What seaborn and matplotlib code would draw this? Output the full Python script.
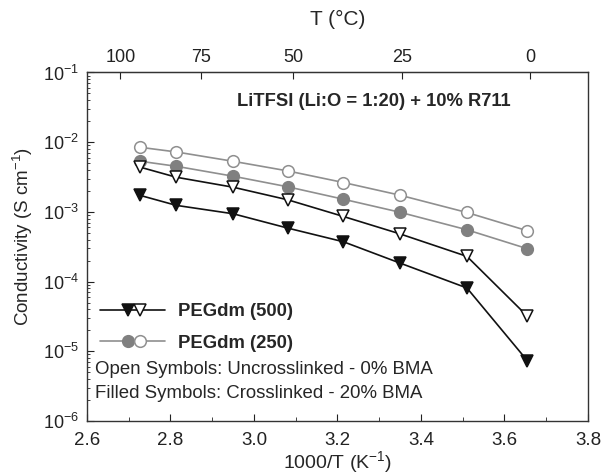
import numpy as np
import pandas as pd
import matplotlib
matplotlib.use("Agg")
import matplotlib.pyplot as plt
import seaborn as sns
from matplotlib.lines import Line2D
from matplotlib.legend_handler import HandlerLine2D, HandlerTuple
from matplotlib.ticker import MultipleLocator, LogLocator, NullFormatter, NullLocator, FormatStrFormatter

# Inverse temperature (1000/T, K^-1) of the measurement points
inv_T = [2.728, 2.814, 2.950, 3.081, 3.214, 3.349, 3.510, 3.655]

# Ionic conductivity, S cm^-1
peg500_crosslinked = [1.72e-3, 1.24e-3, 9.4e-4, 5.85e-4, 3.73e-4, 1.85e-4, 8.1e-5, 7.3e-6]
peg500_uncrosslinked = [4.37e-3, 3.14e-3, 2.26e-3, 1.49e-3, 8.6e-4, 4.85e-4, 2.30e-4, 3.18e-5]
peg250_crosslinked = [5.32e-3, 4.51e-3, 3.25e-3, 2.29e-3, 1.52e-3, 9.9e-4, 5.54e-4, 2.96e-4]
peg250_uncrosslinked = [8.44e-3, 7.24e-3, 5.32e-3, 3.87e-3, 2.64e-3, 1.74e-3, 9.8e-4, 5.36e-4]

series_labels = ["PEGdm (500)", "PEGdm (250)"]
top_ticks_C = [100, 75, 50, 25, 0]

sns.set_style("ticks")
plt.rcParams["font.family"] = ["Liberation Sans", "DejaVu Sans"]
plt.rcParams["mathtext.default"] = "regular"

df = pd.DataFrame({
    "x": inv_T * 4,
    "sigma": peg500_crosslinked + peg500_uncrosslinked + peg250_crosslinked + peg250_uncrosslinked,
    "series": (["500x"] * 8 + ["500u"] * 8 + ["250x"] * 8 + ["250u"] * 8),
})

black = "#111111"
grey_line = "#8f8f8f"
grey_fill = "#808080"
MS = 8.4
MEW = 1.1

styles = {
    "500x": dict(color=black, marker="v", markerfacecolor=black, markeredgecolor=black),
    "500u": dict(color=black, marker="v", markerfacecolor="white", markeredgecolor=black),
    "250x": dict(color=grey_line, marker="o", markerfacecolor=grey_fill, markeredgecolor=grey_fill),
    "250u": dict(color=grey_line, marker="o", markerfacecolor="white", markeredgecolor=grey_line),
}

fig = plt.figure(figsize=(6.05, 4.75), dpi=100)
ax = fig.add_axes([0.1438, 0.1137, 0.8281, 0.7337])

for key in ["250u", "250x", "500u", "500x"]:
    st = styles[key]
    sns.lineplot(data=df[df["series"] == key], x="x", y="sigma", ax=ax,
                 color=st["color"], marker=st["marker"], markersize=MS,
                 markerfacecolor=st["markerfacecolor"], markeredgecolor=st["markeredgecolor"],
                 markeredgewidth=MEW, linewidth=1.2, legend=False, estimator=None)

ax.set_yscale("log")
ax.set_xlim(2.6, 3.8)
ax.set_ylim(1e-6, 1e-1)
ax.xaxis.set_major_locator(MultipleLocator(0.2))
ax.xaxis.set_minor_locator(MultipleLocator(0.1))
ax.xaxis.set_major_formatter(FormatStrFormatter("%.1f"))
ax.yaxis.set_major_locator(LogLocator(base=10, numticks=10))
ax.yaxis.set_minor_locator(LogLocator(base=10, subs=np.arange(2, 10), numticks=20))
ax.yaxis.set_minor_formatter(NullFormatter())

ax.tick_params(axis="both", which="both", direction="in", colors="#222222")
ax.tick_params(axis="x", which="major", length=5, pad=8, labelsize=13.5)
ax.tick_params(axis="x", which="minor", length=3)
ax.tick_params(axis="y", which="major", length=5, pad=6, labelsize=13)
ax.tick_params(axis="y", which="minor", length=2.5)
for sp in ax.spines.values():
    sp.set_visible(True)
    sp.set_color("#333333")
    sp.set_linewidth(1.0)

ax.set_xlabel("1000/T (K$^{-1}$)", fontsize=14, labelpad=0)
ax.set_ylabel("Conductivity (S cm$^{-1}$)", fontsize=13.5)
ax.yaxis.set_label_coords(-0.104, 0.53)

# Celsius temperature scale on top
sec = ax.secondary_xaxis("top", functions=(lambda x: 1000.0 / x - 273.15,
                                           lambda t: 1000.0 / (t + 273.15)))
sec.set_xticks(top_ticks_C)
sec.tick_params(direction="in", length=5, labelsize=13, pad=5, colors="#222222")
sec.xaxis.set_minor_locator(NullLocator())
sec.set_xlabel("T (°C)", fontsize=15, labelpad=17)
sec.spines["top"].set_color("#333333")

ax.text(0.300, 0.916, "LiTFSI (Li:O = 1:20) + 10% R711", transform=ax.transAxes,
        fontsize=13.2, fontweight="bold", ha="left", va="center")
ax.text(0.015, 0.149, "Open Symbols: Uncrosslinked - 0% BMA", transform=ax.transAxes,
        fontsize=13.4, ha="left", va="center")
ax.text(0.015, 0.080, "Filled Symbols: Crosslinked - 20% BMA", transform=ax.transAxes,
        fontsize=13.4, ha="left", va="center")


class MarkerAt(HandlerLine2D):
    """Legend handler that puts a single marker at a chosen fraction of the handle."""

    def __init__(self, frac, **kw):
        super().__init__(numpoints=1, **kw)
        self.frac = frac

    def get_xdata(self, legend, xdescent, ydescent, width, height, fontsize):
        xm = -xdescent + self.frac * width
        return np.array([xm - 0.5, xm + 0.5]), np.array([xm])


def legend_entry(key_filled, key_open):
    line = Line2D([], [], color=styles[key_filled]["color"], linewidth=1.2)
    mf = Line2D([], [], linestyle="None", marker=styles[key_filled]["marker"], markersize=MS,
                markerfacecolor=styles[key_filled]["markerfacecolor"],
                markeredgecolor=styles[key_filled]["markeredgecolor"], markeredgewidth=MEW)
    mo = Line2D([], [], linestyle="None", marker=styles[key_open]["marker"], markersize=MS,
                markerfacecolor=styles[key_open]["markerfacecolor"],
                markeredgecolor=styles[key_open]["markeredgecolor"], markeredgewidth=MEW)
    return (line, mf, mo), mf, mo


h500, f500, o500 = legend_entry("500x", "500u")
h250, f250, o250 = legend_entry("250x", "250u")
hmap = {tuple: HandlerTuple(ndivide=1, pad=0)}
for m in (f500, f250):
    hmap[m] = MarkerAt(0.43)
for m in (o500, o250):
    hmap[m] = MarkerAt(0.62)

leg = ax.legend([h500, h250], series_labels, handler_map=hmap,
                loc="center left", bbox_to_anchor=(0.026, 0.268), frameon=False,
                borderpad=0, borderaxespad=0, handlelength=3.5, handletextpad=0.7,
                labelspacing=0.78, prop={"weight": "bold", "size": 13.3})

fig.savefig("out.png", dpi=100)
